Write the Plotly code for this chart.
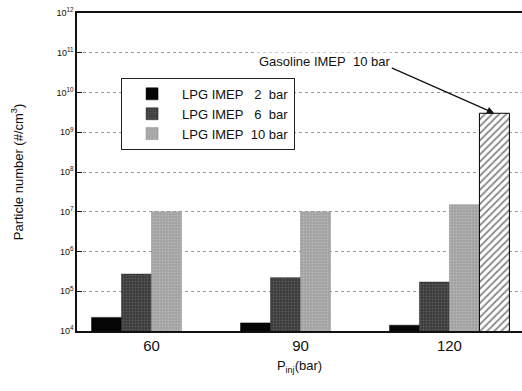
import plotly.graph_objects as go

categories = ["60", "90", "120"]
lpg_2bar = [2.2e4, 1.6e4, 1.4e4]
lpg_6bar = [2.7e5, 2.2e5, 1.7e5]
lpg_10bar = [1.0e7, 1.0e7, 1.5e7]
gasoline_10bar = [None, None, 3.0e9]
y_tickvals = [1e4, 1e5, 1e6, 1e7, 1e8, 1e9, 1e10, 1e11, 1e12]
y_ticktext = ["10<sup>%d</sup>" % e for e in range(4, 13)]

FONT = "Liberation Sans, Arial, sans-serif"
nb = "\u00a0"

fig = go.Figure()
fig.add_trace(go.Bar(x=categories, y=lpg_2bar, name=f"LPG IMEP{nb*3}2{nb*2}bar",
                     marker=dict(color="#050505", line=dict(color="#000", width=0.5))))
fig.add_trace(go.Bar(x=categories, y=lpg_6bar, name=f"LPG IMEP{nb*3}6{nb*2}bar",
                     marker=dict(color="#3a3a3a", line=dict(color="#222", width=0.5),
                                 pattern=dict(shape=".", fgcolor="#7a7a7a", size=3, solidity=0.35))))
fig.add_trace(go.Bar(x=categories, y=lpg_10bar, name=f"LPG IMEP{nb*2}10 bar",
                     marker=dict(color="#a0a0a0", line=dict(color="#888", width=0.5),
                                 pattern=dict(shape=".", fgcolor="#d0d0d0", size=3, solidity=0.35))))
fig.add_trace(go.Bar(x=categories, y=gasoline_10bar, name="Gasoline IMEP 10 bar", showlegend=False,
                     marker=dict(color="white", line=dict(color="#000", width=1),
                                 pattern=dict(shape="/", fgcolor="#111", bgcolor="white", size=5, solidity=0.35))))

fig.update_layout(
    width=522, height=391,
    margin=dict(l=77, r=0, t=13, b=60, autoexpand=False),
    paper_bgcolor="white", plot_bgcolor="white",
    barmode="group", bargap=0.195, bargroupgap=0,
    font=dict(family=FONT, color="#111"),
    legend=dict(x=0.099, y=0.796, xanchor="left", yanchor="top",
                bordercolor="#222", borderwidth=1, bgcolor="white",
                font=dict(size=13, family=FONT), itemwidth=50,
                tracegroupgap=0),
)
fig.update_xaxes(type="category", range=[-0.5, 2.487], automargin=False,
                 showgrid=False, zeroline=False,
                 showline=True, linecolor="#111", linewidth=1.5, mirror=True,
                 ticks="", tickfont=dict(size=15, family=FONT),
                 title=dict(text="P<sub>inj</sub>(bar)", font=dict(size=13, family=FONT), standoff=8))
fig.update_yaxes(type="log", range=[4, 12], automargin=False,
                 tickvals=y_tickvals, ticktext=y_ticktext,
                 tickfont=dict(size=9, family=FONT),
                 ticks="inside", ticklen=5, tickcolor="#111",
                 showline=True, linecolor="#111", linewidth=1.5, mirror=False,
                 showgrid=True, gridcolor="#999", griddash="dot", gridwidth=1,
                 title=dict(text="Particle number (#/cm<sup>3</sup>)", font=dict(size=13, family=FONT), standoff=30))

fig.add_annotation(x=2.3, y=9.48, xref="x", yref="y", text="",
                   showarrow=True, arrowhead=2, arrowsize=1.2, arrowwidth=1.2, arrowcolor="#111",
                   ax=-104, ay=-46)
fig.add_annotation(x=0.708, y=0.877, xref="paper", yref="paper", text=f"Gasoline IMEP{nb*2}10 bar",
                   showarrow=False, font=dict(size=13, family=FONT), bgcolor="white")

fig.write_html("out.html", config={"displayModeBar": False},
               post_script="document.body.style.margin='0';")
